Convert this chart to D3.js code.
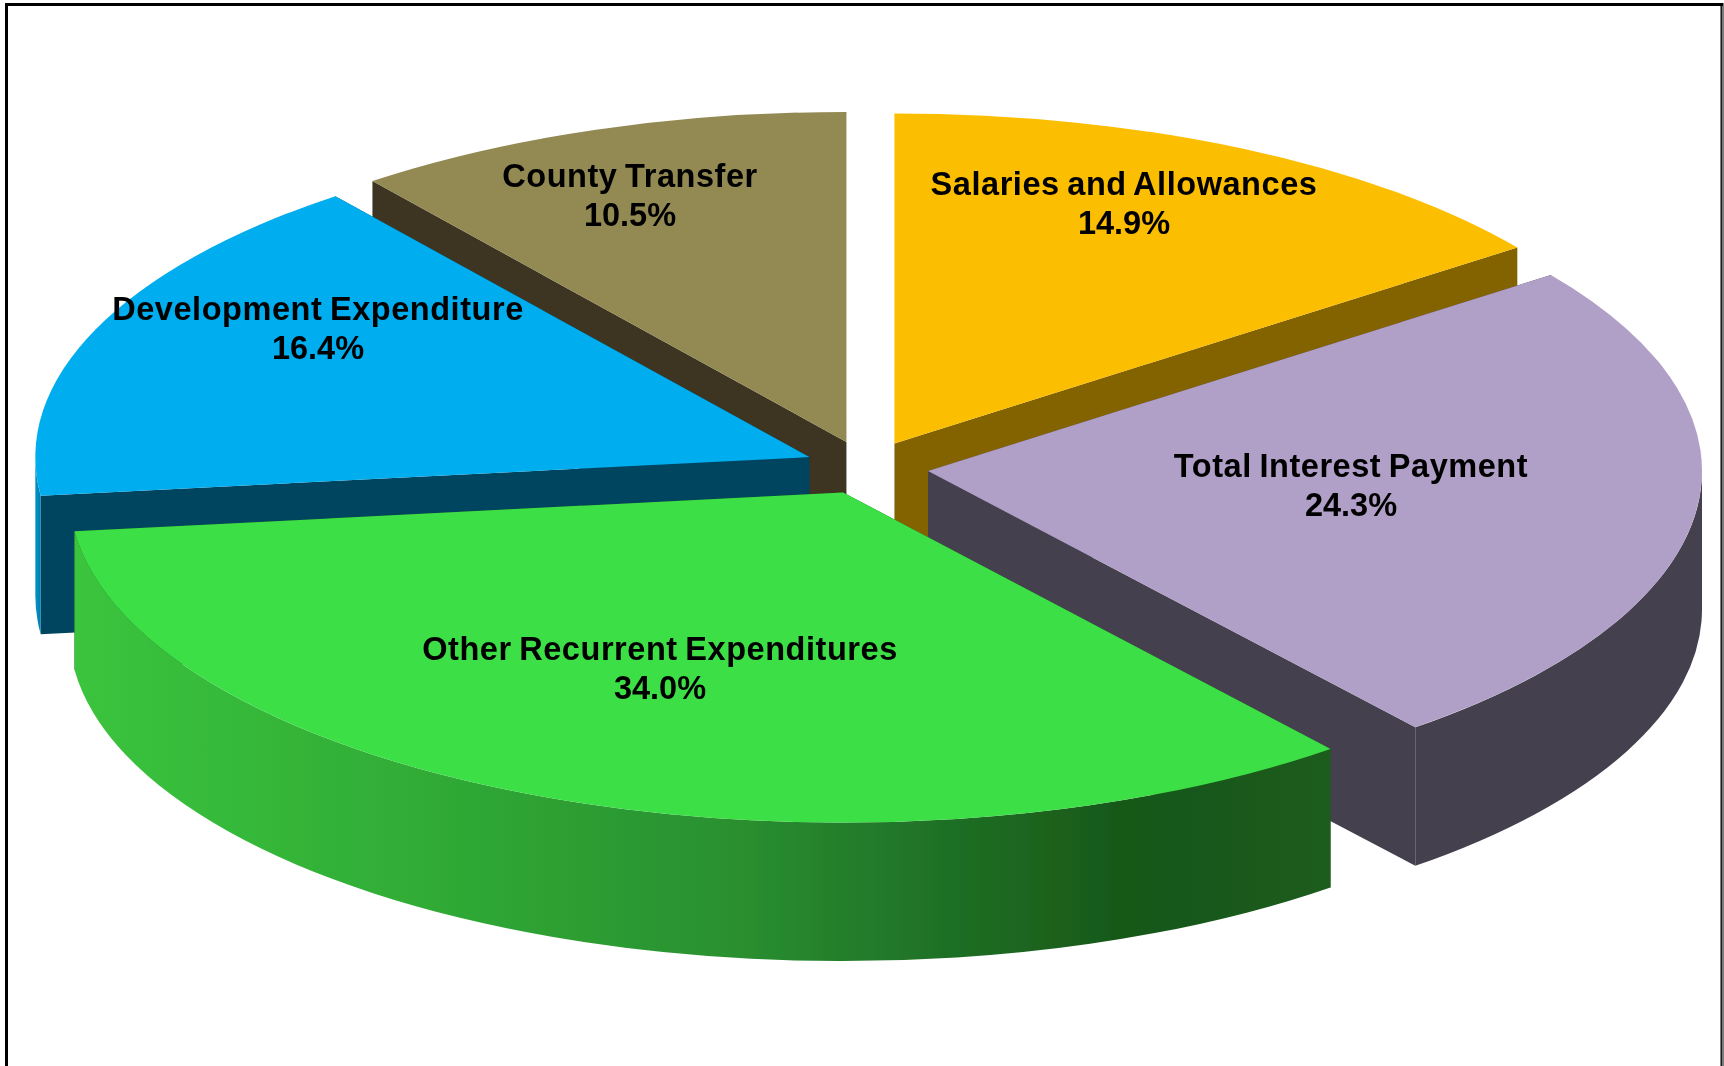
<!DOCTYPE html>
<html><head><meta charset="utf-8">
<script src="https://cdn.jsdelivr.net/npm/d3@7/dist/d3.min.js"></script>
<style>html,body{margin:0;padding:0;background:#fff}svg{display:block}
text{font-family:"Liberation Sans",Arial,sans-serif;font-weight:700;fill:#050505}</style>
</head><body><div id="chart"></div>
<script>
const categories = ["Salaries and Allowances","Total Interest Payment","Other Recurrent Expenditures","Development Expenditure","County Transfer"];
const shares = [14.9,24.3,34.0,16.4,10.5];
const topColors = ["#FCBE00","#B09FC6","#3EDF47","#00AEEF","#928953"];
const sideColors = ["#836200","#453F4E","#1A5A1C","#00455F","#3D3620"];
const paintOrder = [4,0,3,1,2];
const labelAnchors = [[1124,184],[1351,466],[660,649],[318,309],[630,176]];

const W=1724,H=1066,cx=866.5,cy=467.5,rx=774,ry=330,depth=138.5,exX=62,exY=27;
const fontSize=32.5,lineGap=38.5;

const svg=d3.select("#chart").append("svg").attr("width",W).attr("height",H);
const defs=svg.append("defs");
defs.append("filter").attr("id","soft").attr("x","-5%").attr("y","-5%").attr("width","110%").attr("height","110%")
  .append("feGaussianBlur").attr("stdDeviation",0.5);
const grad=defs.append("linearGradient").attr("id","greenWall").attr("gradientUnits","userSpaceOnUse")
  .attr("x1",73).attr("x2",1330).attr("y1",0).attr("y2",0);
[[0,"#3BC43D"],[0.273,"#30AC36"],[0.525,"#2A902F"],[0.65,"#21782A"],[0.833,"#185819"],[1,"#1B5B1D"]]
  .forEach(([o,c])=>grad.append("stop").attr("offset",o).attr("stop-color",c));
const gradB=defs.append("linearGradient").attr("id","blueWall").attr("gradientUnits","userSpaceOnUse")
  .attr("x1",34).attr("x2",42).attr("y1",0).attr("y2",0);
gradB.append("stop").attr("offset",0).attr("stop-color","#0098D0");
gradB.append("stop").attr("offset",1).attr("stop-color","#0078A5");

svg.append("rect").attr("x",6.5).attr("y",4.5).attr("width",1715.5).attr("height",H+10)
  .attr("fill","#fff").attr("stroke","#000").attr("stroke-width",3);
svg.append("line").attr("x1",1722.5).attr("x2",1722.5).attr("y1",6).attr("y2",H).attr("stroke","#777").attr("stroke-width",1.5);

const arcs=d3.pie().sort(null).value(d=>d)(shares);
const g=svg.append("g").attr("filter","url(#soft)");
const pt=(a,ox,oy,dz=0)=>[ox+rx*Math.sin(a),oy-ry*Math.cos(a)+dz];
const topArc=d3.arc().innerRadius(0).outerRadius(rx);
const poly=d3.line();

paintOrder.forEach(i=>{
  const a=arcs[i],mid=(a.startAngle+a.endAngle)/2;
  const ox=cx+exX*Math.sin(mid),oy=cy-exY*Math.cos(mid);
  const s=g.append("g").attr("class","slice");
  [a.startAngle,a.endAngle].forEach(t=>{
    s.append("path").attr("fill",sideColors[i])
      .attr("d",poly([[ox,oy],pt(t,ox,oy),pt(t,ox,oy,depth),[ox,oy+depth]])+"Z");
  });
  const lo=Math.max(a.startAngle,Math.PI/2),hi=Math.min(a.endAngle,3*Math.PI/2);
  if(hi>lo){
    const p0=pt(lo,ox,oy),p1=pt(hi,ox,oy),p2=pt(hi,ox,oy,depth),p3=pt(lo,ox,oy,depth);
    const fill=i===2?"url(#greenWall)":i===3?"url(#blueWall)":sideColors[i];
    s.append("path").attr("fill",fill)
      .attr("d",`M${p0}A${rx},${ry} 0 0 1 ${p1}L${p2}A${rx},${ry} 0 0 0 ${p3}Z`);
  }
  s.append("path").attr("fill",topColors[i])
    .attr("transform",`translate(${ox},${oy}) scale(1,${ry/rx})`)
    .attr("d",topArc(a));
});

const lab=svg.append("g").attr("filter","url(#soft)").attr("text-anchor","middle").attr("font-size",fontSize);
categories.forEach((c,i)=>{
  const [x,y]=labelAnchors[i];
  const t=lab.append("text").attr("x",x).attr("y",y+11);
  t.append("tspan").attr("x",x).attr("letter-spacing",0.55).attr("word-spacing",-2).text(c);
  t.append("tspan").attr("x",x).attr("dy",lineGap).text(d3.format(".1f")(shares[i])+"%");
});
</script></body></html>
